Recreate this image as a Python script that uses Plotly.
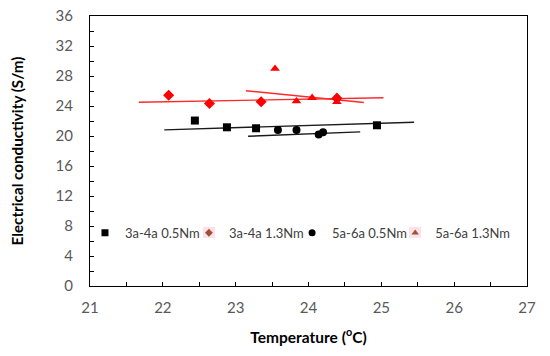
import plotly.graph_objects as go

# Data
sq_x = [22.44, 22.88, 23.28, 24.94]          # 3a-4a 0.5Nm
sq_y = [22.06, 21.16, 21.03, 21.43]
di_x = [22.08, 22.64, 23.35, 24.39]          # 3a-4a 1.3Nm
di_y = [25.44, 24.33, 24.56, 25.05]
ci_x = [23.58, 23.835, 24.14, 24.20]         # 5a-6a 0.5Nm
ci_y = [20.80, 20.80, 20.19, 20.50]
tr_x = [23.54, 23.835, 24.05, 24.39]         # 5a-6a 1.3Nm
tr_y = [28.97, 24.64, 25.10, 24.55]

# Linear trend line end points
sq_tx = [22.02, 25.45]; sq_ty = [20.82, 21.83]
di_tx = [21.67, 25.03]; di_ty = [24.50, 25.09]
ci_tx = [23.17, 24.71]; ci_ty = [19.96, 20.55]
tr_tx = [23.14, 24.76]; tr_ty = [26.03, 24.47]

names = ["3a-4a 0.5Nm", "3a-4a 1.3Nm", "5a-6a 0.5Nm", "5a-6a 1.3Nm"]
x_ticks = [21, 22, 23, 24, 25, 26, 27]
y_ticks = [0, 4, 8, 12, 16, 20, 24, 28, 32, 36]

FONT = "Lato"
fig = go.Figure()

# trend lines
for tx, ty, col in [(sq_tx, sq_ty, "#1a1a1a"), (ci_tx, ci_ty, "#1a1a1a"),
                    (di_tx, di_ty, "#ff2a2a"), (tr_tx, tr_ty, "#ff2a2a")]:
    fig.add_trace(go.Scatter(x=tx, y=ty, mode="lines", showlegend=False,
                             line=dict(color=col, width=1.4), hoverinfo="skip"))

# data markers
fig.add_trace(go.Scatter(x=sq_x, y=sq_y, mode="markers", showlegend=False,
                         marker=dict(symbol="square", size=8, color="black")))
fig.add_trace(go.Scatter(x=di_x, y=di_y, mode="markers", showlegend=False,
                         marker=dict(symbol="diamond", size=8.5, color="#ff0000")))
fig.add_trace(go.Scatter(x=ci_x, y=ci_y, mode="markers", showlegend=False,
                         marker=dict(symbol="circle", size=8, color="black")))
fig.add_trace(go.Scatter(x=tr_x, y=tr_y, mode="markers", showlegend=False,
                         marker=dict(symbol="triangle-up", size=8.5, color="#ff0000")))

# legend entries, one small legend each so they can be spaced like the reference
legend_ids = ["legend", "legend2", "legend3", "legend4"]
legend_x = [-0.0115, 0.2264, 0.4624, 0.6984]
for name, sym, col, sz, lid in zip(names,
                                   ["square", "diamond", "circle", "triangle-up"],
                                   ["black", "#a0522d", "black", "#a0522d"],
                                   [7, 6, 7, 6.5],
                                   legend_ids):
    fig.add_trace(go.Scatter(x=[None], y=[None], mode="markers", name=name,
                             legend=lid, showlegend=True,
                             marker=dict(symbol=sym, size=sz, color=col)))

legend_style = dict(orientation="h", y=0.197, xanchor="left", yanchor="middle",
                    font=dict(family=FONT, size=13, color="#404040"),
                    bgcolor="rgba(0,0,0,0)", itemwidth=30)
fig.update_layout(**{lid: dict(x=lx, **legend_style)
                     for lid, lx in zip(legend_ids, legend_x)})

# pink highlight behind the brown legend symbols
for x0, x1 in [(0.2586, 0.2860), (0.7300, 0.7574)]:
    fig.add_shape(type="rect", xref="paper", yref="paper", x0=x0, x1=x1,
                  y0=0.178, y1=0.219, line=dict(width=0),
                  fillcolor="#fbe0ee", layer="below")

axis_common = dict(showline=True, linecolor="black", linewidth=1.3, mirror=True,
                   ticks="inside", ticklen=4, tickcolor="black", tickwidth=1,
                   showgrid=False, zeroline=False, automargin=False,
                   tickfont=dict(family=FONT, size=15, color="#595959"))

fig.update_xaxes(range=[21, 27], tickvals=x_ticks, ticklabelstandoff=8,
                 minor=dict(dtick=0.5, ticks="inside", ticklen=4, tickcolor="black"),
                 title=dict(text="<b>Temperature (<sup>o</sup>C)</b>",
                            font=dict(family=FONT, size=15.5, color="black"), standoff=16),
                 **axis_common)
fig.update_yaxes(range=[0, 36], tickvals=y_ticks, ticklabelstandoff=13,
                 minor=dict(dtick=2, ticks="inside", ticklen=4, tickcolor="black"),
                 title=dict(text="<b>Electrical conductivity (S/m)</b>",
                            font=dict(family=FONT, size=15.2, color="black"), standoff=28),
                 **axis_common)

fig.update_layout(
    width=550, height=356,
    margin=dict(l=90, r=23, t=16, b=70, autoexpand=False),
    paper_bgcolor="white", plot_bgcolor="white",
    font=dict(family=FONT),
)

fig.write_html("out.html", config={"displayModeBar": False},
               post_script="document.body.style.margin='0';")
